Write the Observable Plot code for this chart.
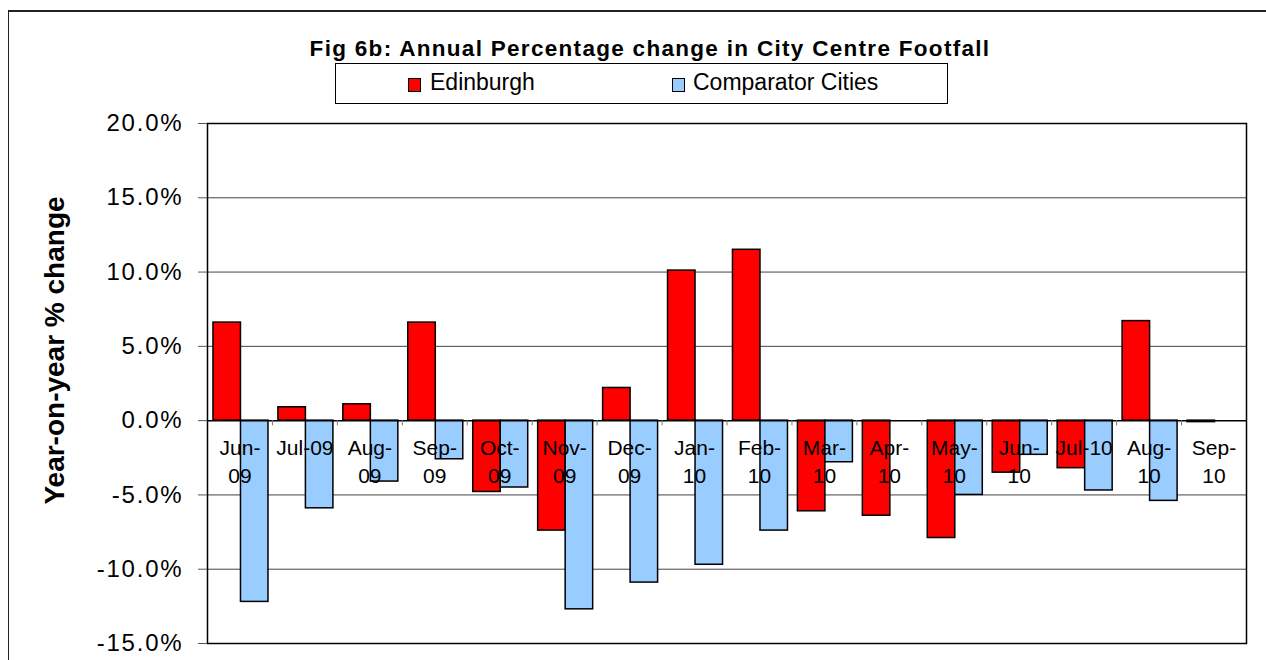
<!DOCTYPE html>
<html>
<head>
<meta charset="utf-8">
<script src="https://cdn.jsdelivr.net/npm/d3@7"></script>
<script src="https://cdn.jsdelivr.net/npm/@observablehq/plot@0.6"></script>
<style>
  html, body { margin: 0; padding: 0; background: #fff; }
  #wrap { position: relative; width: 1266px; height: 660px; overflow: hidden; font-family: "Liberation Sans", Arial, sans-serif; color: #000; }
  #outer { position: absolute; left: 8px; top: 10px; width: 1300px; height: 700px; border-left: 1.5px solid #222; border-top: 2px solid #222; pointer-events: none; }
  #header { position: relative; height: 105px; }
  #title { position: absolute; left: 150px; top: 38px; width: 1000px; text-align: center; font-weight: bold; font-size: 22.5px; line-height: 22px; letter-spacing: 1.3px; white-space: nowrap; }
  #legend { position: absolute; left: 335px; top: 63px; width: 613px; height: 41px; border: 1.5px solid #000; box-sizing: border-box; }
  .item { position: absolute; top: 0; height: 40px; font-size: 23px; white-space: nowrap; }
  .sw { position: absolute; top: 14px; width: 11px; height: 12px; border: 1px solid #000; }
  .lab { position: absolute; top: 5px; line-height: 26px; }
  #chart svg { display: block; }
  #chart g[aria-label="y-axis tick label"] text { letter-spacing: 1.8px; }
</style>
</head>
<body>
<div id="wrap">
  <div id="header">
    <div id="title"></div>
    <div id="legend"></div>
  </div>
  <div id="chart"></div>
  <div id="outer"></div>
</div>
<script>
// ---- data ----
const titleText = "Fig 6b: Annual Percentage change in City Centre Footfall";
const yLabel = "Year-on-year % change";
const seriesNames = ["Edinburgh", "Comparator Cities"];
const seriesColors = ["#FF0000", "#99CCFF"];
const months = ["Jun-09","Jul-09","Aug-09","Sep-09","Oct-09","Nov-09","Dec-09","Jan-10","Feb-10","Mar-10","Apr-10","May-10","Jun-10","Jul-10","Aug-10","Sep-10"];
const monthLabels = ["Jun-\n09","Jul-09","Aug-\n09","Sep-\n09","Oct-\n09","Nov-\n09","Dec-\n09","Jan-\n10","Feb-\n10","Mar-\n10","Apr-\n10","May-\n10","Jun-\n10","Jul-10","Aug-\n10","Sep-\n10"];
const edinburgh = [6.6, 0.9, 1.1, 6.6, -4.8, -7.4, 2.2, 10.1, 11.5, -6.1, -6.4, -7.9, -3.5, -3.2, 6.7, -0.1];
const comparator = [-12.2, -5.9, -4.1, -2.6, -4.5, -12.7, -10.9, -9.7, -7.4, -2.8, null, -5.0, -2.3, -4.7, -5.4, null];
const yTicks = [-15, -10, -5, 0, 5, 10, 15, 20];
const gridValues = [-10, -5, 5, 10, 15];

// ---- build table ----
const rows = months.map((m, i) => ({month: m, label: monthLabels[i], edi: edinburgh[i], comp: comparator[i]}));

// ---- title & legend ----
document.getElementById("title").textContent = titleText;
const legend = document.getElementById("legend");
const legendPos = [[72, 94], [336, 357]];
seriesNames.forEach((name, i) => {
  const sw = document.createElement("div");
  sw.className = "sw";
  sw.style.left = legendPos[i][0] + "px";
  sw.style.background = seriesColors[i];
  legend.appendChild(sw);
  const lab = document.createElement("div");
  lab.className = "item lab";
  lab.style.left = legendPos[i][1] + "px";
  lab.textContent = name;
  legend.appendChild(lab);
});

// ---- chart ----
const W = 1266, H = 555;
const mL = 207, mR = 20, mT = 18, mB = 17;
const half = (W - mL - mR) / months.length / 2;
const barW = 27.5;
const inset = half - barW / 2;

const chart = Plot.plot({
  width: W,
  height: H,
  marginLeft: mL,
  marginRight: mR,
  marginTop: mT,
  marginBottom: mB,
  style: {fontFamily: "'Liberation Sans', Arial, sans-serif", background: "transparent", overflow: "visible", color: "#000"},
  x: {type: "band", domain: months, padding: 0, round: false, axis: null},
  y: {domain: [-15, 20], axis: null},
  marks: [
    Plot.ruleY(gridValues, {stroke: "#444", strokeWidth: 1}),
    Plot.barY(rows, {x: "month", y: "edi", fill: seriesColors[0], stroke: "#000", strokeWidth: 1.5, insetLeft: inset, insetRight: inset, dx: -barW / 2 + 1}),
    Plot.barY(rows.filter(d => d.comp != null), {x: "month", y: "comp", fill: seriesColors[1], stroke: "#000", strokeWidth: 1.5, insetLeft: inset, insetRight: inset, dx: barW / 2 + 1}),
    Plot.ruleY([0], {stroke: "#000", strokeWidth: 1.5}),
    Plot.ruleX(months.slice(1), {x: d => d, y1: 0, y2: -0.35, dx: -half, stroke: "#777", strokeWidth: 1}),
    Plot.frame({stroke: "#000", strokeWidth: 1.5}),
    Plot.axisY(yTicks, {tickSize: 9, tickPadding: 15, tickFormat: d => d.toFixed(1) + "%", fontSize: 24, label: null, stroke: "#555"}),
    Plot.text([yLabel], {frameAnchor: "left", rotate: -90, dx: -152, dy: -33, fontSize: 28, fontWeight: "bold", lineAnchor: "middle", textAnchor: "middle", fill: "#000"}),
    Plot.text(rows, {x: "month", y: d => 0, text: "label", lineAnchor: "top", dy: 14, fontSize: 21, lineHeight: 1.333, textAnchor: "middle", fill: "#000"})
  ]
});
document.getElementById("chart").appendChild(chart);
</script>
</body>
</html>
